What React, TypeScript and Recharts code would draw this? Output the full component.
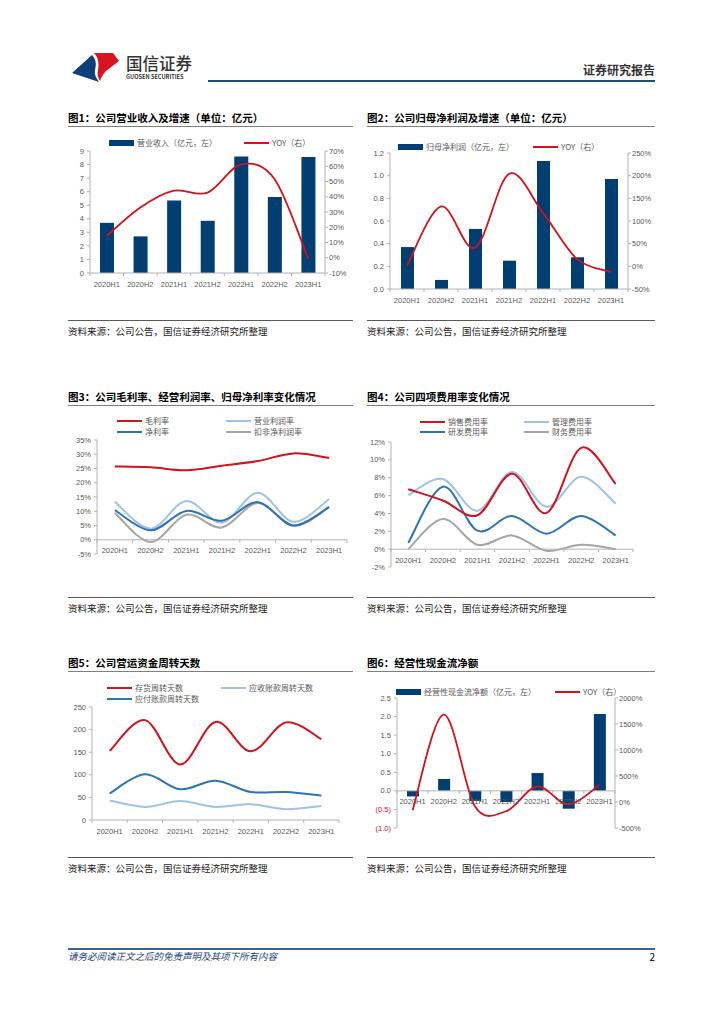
import React from 'react';
import { ComposedChart, Bar, Line, XAxis, YAxis, ReferenceLine } from 'recharts';

// half-year periods shared by all six charts
const periods = ['2020H1', '2020H2', '2021H1', '2021H2', '2022H1', '2022H2', '2023H1'];

// fig 1: revenue (100m yuan) and yoy (%)
const revenue = [3.7, 2.7, 5.35, 3.85, 8.6, 5.6, 8.55];
const revenueYoy = [14.4, 33, 44, 42.7, 61.2, 51.5, -0.7];
// fig 2: net profit attributable (100m yuan) and yoy (%)
const netProfit = [0.37, 0.08, 0.53, 0.25, 1.13, 0.28, 0.97];
const netProfitYoy = [1.5, 132, 41, 204, 118, 16, -12.5];
// fig 3: margins (%)
const grossMargin = [25.7, 25.4, 24.4, 26.0, 27.6, 30.3, 28.7];
const opMargin = [13.3, 3.9, 13.6, 6.0, 16.5, 6.3, 14.3];
const netMargin = [10.4, 3.3, 10.1, 6.7, 13.2, 5.0, 11.5];
const deductedMargin = [9.4, -0.8, 8.8, 4.3, 12.9, 4.9, 11.3];
// fig 4: expense ratios (%)
const sellingRate = [6.7, 5.45, 3.8, 8.45, 4.06, 11.35, 7.3];
const adminRate = [6.05, 7.85, 4.3, 8.65, 4.75, 8.1, 5.1];
const rdRate = [0.7, 7.0, 2.07, 3.72, 1.73, 3.72, 1.54];
const financeRate = [0, 3.38, 0.49, 1.54, -0.19, 0.49, 0];
// fig 5: working capital turnover days
const inventoryDays = [153, 221, 123, 217, 152, 216, 179];
const receivableDays = [43, 29, 42, 29, 35, 24, 31];
const payableDays = [59, 101, 68, 87, 62, 62, 54];
// fig 6: operating cash flow (100m yuan) and yoy (%)
const opCashFlow = [-0.15, 0.32, -0.27, -0.3, 0.48, -0.48, 2.07];
const opCashFlowYoy = [-160, 1680, -80, -178, 300, -48, 330];

// axis ticks
const ticks1L = [0, 1, 2, 3, 4, 5, 6, 7, 8, 9];
const ticks1R = [-10, 0, 10, 20, 30, 40, 50, 60, 70];
const ticks2L = [0, 0.2, 0.4, 0.6, 0.8, 1.0, 1.2];
const ticks2R = [-50, 0, 50, 100, 150, 200, 250];
const ticks3 = [-5, 0, 5, 10, 15, 20, 25, 30, 35];
const ticks4 = [-2, 0, 2, 4, 6, 8, 10, 12];
const ticks5 = [0, 50, 100, 150, 200, 250];
const ticks6L = [-1, -0.5, 0, 0.5, 1, 1.5, 2, 2.5];
const ticks6R = [-500, 0, 500, 1000, 1500, 2000];

const rows = periods.map((period, i) => ({
  period,
  revenue: revenue[i],
  revenueYoy: revenueYoy[i],
  netProfit: netProfit[i],
  netProfitYoy: netProfitYoy[i],
  grossMargin: grossMargin[i],
  opMargin: opMargin[i],
  netMargin: netMargin[i],
  deductedMargin: deductedMargin[i],
  sellingRate: sellingRate[i],
  adminRate: adminRate[i],
  rdRate: rdRate[i],
  financeRate: financeRate[i],
  inventoryDays: inventoryDays[i],
  receivableDays: receivableDays[i],
  payableDays: payableDays[i],
  opCashFlow: opCashFlow[i],
  opCashFlowYoy: opCashFlowYoy[i],
}));

const NAVY = '#013e72';
const RED = '#d2121d';
const LIGHT = '#9dc3e6';
const BLUE = '#2e74b5';
const GREY = '#a6a6a6';
const AXIS = '#b3b3b3';
const TICK_TXT = '#595959';
const CJK = "'Noto Sans CJK SC', sans-serif";
const NUM = "'Liberation Sans', 'Noto Sans CJK SC', sans-serif";

// excel-like smoothed line (catmull-rom through every point)
const excelCurve = (ctx: any) => {
  let pts: number[][] = [];
  return {
    areaStart() {},
    areaEnd() {},
    lineStart() {
      pts = [];
    },
    point(x: number, y: number) {
      pts.push([+x, +y]);
    },
    lineEnd() {
      const n = pts.length;
      if (!n) return;
      ctx.moveTo(pts[0][0], pts[0][1]);
      for (let i = 0; i < n - 1; i++) {
        const p0 = pts[Math.max(i - 1, 0)];
        const p1 = pts[i];
        const p2 = pts[i + 1];
        const p3 = pts[Math.min(i + 2, n - 1)];
        ctx.bezierCurveTo(
          p1[0] + (p2[0] - p0[0]) / 6,
          p1[1] + (p2[1] - p0[1]) / 6,
          p2[0] - (p3[0] - p1[0]) / 6,
          p2[1] - (p3[1] - p1[1]) / 6,
          p2[0],
          p2[1]
        );
      }
    },
  };
};

const pct = (v: number) => `${v}%`;
const plain = (v: number) => String(v);
const oneDec = (v: number) => v.toFixed(1);
const bracketNeg = (v: number) => (v < 0 ? `(${(-v).toFixed(1)})` : v.toFixed(1));

const XTick = (props: any) => {
  const { x, y, payload, index, shift, band, count } = props;
  const ay = y - shift;
  return (
    <g>
      <line x1={x - band / 2} x2={x - band / 2} y1={ay} y2={ay + 3} stroke={AXIS} />
      {index === count - 1 && <line x1={x + band / 2} x2={x + band / 2} y1={ay} y2={ay + 3} stroke={AXIS} />}
      <text x={x} y={ay + 11} dy="0.35em" textAnchor="middle" fontSize={7.5} fontFamily={NUM} fill={TICK_TXT}>
        {payload.value}
      </text>
    </g>
  );
};

const YTick = (props: any) => {
  const { x, y, payload, textAnchor, fmt, negRed } = props;
  return (
    <text x={x} y={y} dy="0.35em" textAnchor={textAnchor} fontSize={7.5} fontFamily={NUM} fill={negRed && payload.value < 0 ? RED : TICK_TXT}>
      {fmt(payload.value)}
    </text>
  );
};

type Plot = { L: number; R: number; T: number; B: number };
type AxisCfg = { ticks: number[]; fmt: (v: number) => string; negRed?: boolean };
type Series = { key: string; kind: 'bar' | 'line'; color: string; axis: 'l' | 'r'; width?: number };

const YW = 40;
const XH = 24;
const PAD = 6;

const Panel = ({ plot, left, right, series, barSize }: { plot: Plot; left: AxisCfg; right?: AxisCfg; series: Series[]; barSize?: number }) => {
  const w = plot.R - plot.L + 2 * YW;
  const h = plot.B - plot.T + PAD + XH;
  const lmin = Math.min(...left.ticks);
  const lmax = Math.max(...left.ticks);
  const shift = ((plot.B - plot.T) * (0 - lmin)) / (lmax - lmin);
  const band = (plot.R - plot.L) / periods.length;
  return (
    <div style={{ position: 'absolute', left: plot.L - YW, top: plot.T - PAD }}>
      <ComposedChart width={w} height={h} data={rows} margin={{ top: PAD, right: right ? 0 : YW, bottom: 0, left: 0 }} barSize={barSize}>
        <XAxis
          dataKey="period"
          scale="band"
          axisLine={false}
          tickLine={false}
          tickSize={0}
          tickMargin={0}
          height={XH}
          interval={0}
          tick={(p: any) => <XTick {...p} shift={shift} band={band} count={periods.length} />}
        />
        <YAxis
          yAxisId="l"
          width={YW}
          domain={[lmin, lmax]}
          ticks={left.ticks}
          interval={0}
          allowDataOverflow
          stroke={AXIS}
          tickSize={3}
          tickMargin={3}
          tick={(p: any) => <YTick {...p} fmt={left.fmt} negRed={left.negRed} />}
        />
        {right && (
          <YAxis
            yAxisId="r"
            orientation="right"
            width={YW}
            domain={[Math.min(...right.ticks), Math.max(...right.ticks)]}
            ticks={right.ticks}
            interval={0}
            allowDataOverflow
            stroke={AXIS}
            tickSize={3}
            tickMargin={1}
            tick={(p: any) => <YTick {...p} fmt={right.fmt} />}
          />
        )}
        <ReferenceLine yAxisId="l" y={0} stroke={AXIS} />
        {series.map((s) =>
          s.kind === 'bar' ? (
            <Bar key={s.key} dataKey={s.key} yAxisId={s.axis} fill={s.color} isAnimationActive={false} />
          ) : (
            <Line
              key={s.key}
              dataKey={s.key}
              yAxisId={s.axis}
              type={excelCurve as any}
              stroke={s.color}
              strokeWidth={s.width ?? 2}
              dot={false}
              activeDot={false}
              isAnimationActive={false}
            />
          )
        )}
      </ComposedChart>
    </div>
  );
};

const Txt = ({ x, y, size, children, color = '#000', weight = 400, italic = false, right = false }: any) => (
  <div
    style={{
      position: 'absolute',
      ...(right ? { right: 724 - x } : { left: x }),
      top: y,
      transform: 'translateY(-50%)',
      fontSize: size,
      lineHeight: 1,
      color,
      fontWeight: weight,
      fontStyle: italic ? 'italic' : 'normal',
      whiteSpace: 'nowrap',
      fontFamily: CJK,
    }}
  >
    {children}
  </div>
);

const HLine = ({ x1, x2, y, h = 1, color }: any) => (
  <div style={{ position: 'absolute', left: x1, top: y - h / 2, width: x2 - x1, height: h, background: color }} />
);

const Key = ({ x, y, color, label, bar = false }: any) => (
  <>
    <div style={{ position: 'absolute', left: x, top: y - (bar ? 3 : 1.25), width: 25, height: bar ? 6 : 2.5, background: color }} />
    <Txt x={x + 28} y={y} size={8} color={TICK_TXT}>
      {label}
    </Txt>
  </>
);

const source = '资料来源：公司公告，国信证券经济研究所整理';

const Section = ({ x1, x2, titleY, title, srcY }: any) => (
  <>
    <Txt x={x1} y={titleY} size={10.5} weight={700}>
      {title}
    </Txt>
    <HLine x1={x1} x2={x2} y={titleY + 8.5} h={1.5} color="#7f7f7f" />
    <HLine x1={x1} x2={x2} y={srcY - 12} h={1} color="#595959" />
    <Txt x={x1} y={srcY} size={9.5} color="#222">
      {source}
    </Txt>
  </>
);

export default function App() {
  return (
    <div style={{ position: 'relative', width: 724, height: 1024, background: '#fff', overflow: 'hidden', fontFamily: CJK }}>
      <style>{'body{margin:0}'}</style>

      {/* header */}
      <svg style={{ position: 'absolute', left: 0, top: 0 }} width={130} height={95}>
        <path d="M72,73 L92,55 C97,60 96,66 95,70 C94,75 97,79 99,82 Z" fill="#0f3f78" />
        <path d="M94,53 L113,53 L119,61 L106,71 C103,74 101,78 100,81 C98,78 97,74 98,70 C99,65 99,58 94,53 Z" fill="#d7141f" />
      </svg>
      <Txt x={126} y={63} size={16.5} color="#333" weight={500}>
        国信证券
      </Txt>
      <Txt x={126} y={78} size={5.6} color="#333" weight={700}>
        GUOSEN SECURITIES
      </Txt>
      <Txt x={655} y={70} size={12} color="#333" weight={700} right>
        证券研究报告
      </Txt>
      <HLine x1={208} x2={655} y={81} h={2.5} color="#1f4e79" />

      {/* fig 1 */}
      <Section x1={68} x2={353} titleY={118} title="图1：公司营业收入及增速（单位：亿元）" srcY={332} />
      <Key x={109} y={143} color={NAVY} label="营业收入（亿元，左）" bar />
      <Key x={244} y={143} color={RED} label="YOY（右）" />
      <Panel
        plot={{ L: 90, R: 325, T: 151, B: 273 }}
        left={{ ticks: ticks1L, fmt: plain }}
        right={{ ticks: ticks1R, fmt: pct }}
        barSize={14}
        series={[
          { key: 'revenue', kind: 'bar', color: NAVY, axis: 'l' },
          { key: 'revenueYoy', kind: 'line', color: RED, axis: 'r', width: 1.8 },
        ]}
      />

      {/* fig 2 */}
      <Section x1={367} x2={655} titleY={118} title="图2：公司归母净利润及增速（单位：亿元）" srcY={332} />
      <Key x={398} y={147} color={NAVY} label="归母净利润（亿元，左）" bar />
      <Key x={533} y={147} color={RED} label="YOY（右）" />
      <Panel
        plot={{ L: 390, R: 628, T: 153, B: 289 }}
        left={{ ticks: ticks2L, fmt: oneDec }}
        right={{ ticks: ticks2R, fmt: pct }}
        barSize={13}
        series={[
          { key: 'netProfit', kind: 'bar', color: NAVY, axis: 'l' },
          { key: 'netProfitYoy', kind: 'line', color: RED, axis: 'r', width: 1.8 },
        ]}
      />

      {/* fig 3 */}
      <Section x1={68} x2={353} titleY={397} title="图3：公司毛利率、经营利润率、归母净利率变化情况" srcY={609} />
      <Key x={117} y={421} color={RED} label="毛利率" />
      <Key x={226} y={421} color={LIGHT} label="营业利润率" />
      <Key x={117} y={432} color={BLUE} label="净利率" />
      <Key x={226} y={432} color={GREY} label="扣非净利润率" />
      <Panel
        plot={{ L: 97, R: 347, T: 440, B: 554 }}
        left={{ ticks: ticks3, fmt: pct }}
        series={[
          { key: 'grossMargin', kind: 'line', color: RED, axis: 'l' },
          { key: 'deductedMargin', kind: 'line', color: GREY, axis: 'l' },
          { key: 'opMargin', kind: 'line', color: LIGHT, axis: 'l' },
          { key: 'netMargin', kind: 'line', color: BLUE, axis: 'l' },
        ]}
      />

      {/* fig 4 */}
      <Section x1={367} x2={655} titleY={397} title="图4：公司四项费用率变化情况" srcY={609} />
      <Key x={420} y={422} color={RED} label="销售费用率" />
      <Key x={524} y={422} color={LIGHT} label="管理费用率" />
      <Key x={420} y={432} color={BLUE} label="研发费用率" />
      <Key x={524} y={432} color={GREY} label="财务费用率" />
      <Panel
        plot={{ L: 391, R: 633, T: 442, B: 567 }}
        left={{ ticks: ticks4, fmt: pct }}
        series={[
          { key: 'financeRate', kind: 'line', color: GREY, axis: 'l' },
          { key: 'rdRate', kind: 'line', color: BLUE, axis: 'l' },
          { key: 'adminRate', kind: 'line', color: LIGHT, axis: 'l' },
          { key: 'sellingRate', kind: 'line', color: RED, axis: 'l' },
        ]}
      />

      {/* fig 5 */}
      <Section x1={68} x2={353} titleY={663} title="图5：公司营运资金周转天数" srcY={869} />
      <Key x={107} y={688} color={RED} label="存货周转天数" />
      <Key x={221} y={688} color={LIGHT} label="应收账款周转天数" />
      <Key x={107} y={699} color={BLUE} label="应付账款周转天数" />
      <Panel
        plot={{ L: 92, R: 339, T: 707, B: 820 }}
        left={{ ticks: ticks5, fmt: plain }}
        series={[
          { key: 'receivableDays', kind: 'line', color: LIGHT, axis: 'l' },
          { key: 'payableDays', kind: 'line', color: BLUE, axis: 'l' },
          { key: 'inventoryDays', kind: 'line', color: RED, axis: 'l' },
        ]}
      />

      {/* fig 6 */}
      <Section x1={367} x2={655} titleY={663} title="图6：经营性现金流净额" srcY={869} />
      <Key x={396} y={692} color={NAVY} label="经营性现金流净额（亿元，左）" bar />
      <Key x={555} y={692} color={RED} label="YOY（右）" />
      <Panel
        plot={{ L: 397, R: 615, T: 698, B: 828 }}
        left={{ ticks: ticks6L, fmt: bracketNeg, negRed: true }}
        right={{ ticks: ticks6R, fmt: pct }}
        barSize={12}
        series={[
          { key: 'opCashFlow', kind: 'bar', color: NAVY, axis: 'l' },
          { key: 'opCashFlowYoy', kind: 'line', color: RED, axis: 'r', width: 1.8 },
        ]}
      />

      {/* footer */}
      <HLine x1={68} x2={655} y={949} h={1.2} color="#3b6496" />
      <Txt x={68} y={957} size={9.5} color="#1f3f7a" italic>
        请务必阅读正文之后的免责声明及其项下所有内容
      </Txt>
      <Txt x={655} y={957} size={10} color="#000" right>
        2
      </Txt>
    </div>
  );
}
